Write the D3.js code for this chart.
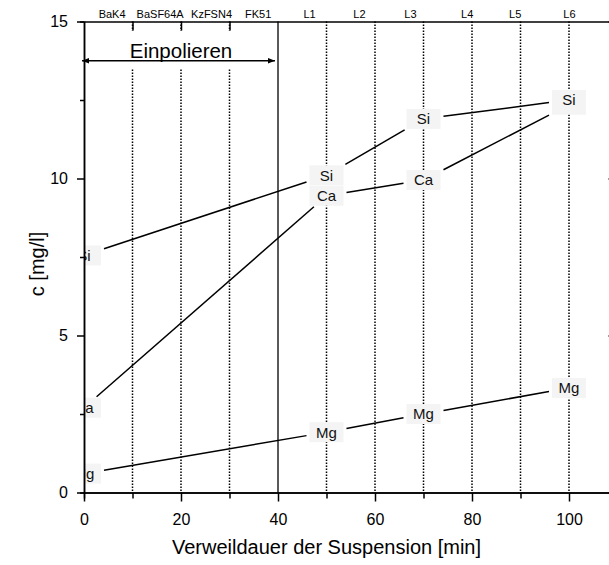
<!DOCTYPE html>
<html>
<head>
<meta charset="utf-8">
<script src="https://cdn.jsdelivr.net/npm/d3@7"></script>
<style>
	body { margin: 0; background: #fff; }
	svg { display: block; font-family: Arial, "Liberation Sans", sans-serif; }
</style>
</head>
<body>
<div id="chart"></div>
<script>
// Measured concentrations (mg/l) over residence time (min)
var times = [0, 50, 70, 100];
var si = [7.55, 10.1, 11.9, 12.5];
var ca = [2.7, 9.45, 9.95, 12.35];
var mg = [0.6, 1.92, 2.5, 3.33];

// Glass labels along the top, with their position on the time axis
var glassLabels = ['BaK4', 'BaSF64A', 'KzFSN4', 'FK51', 'L1', 'L2', 'L3', 'L4', 'L5', 'L6'];
var glassPos = [5.8, 15.7, 26.3, 35.9, 46.5, 56.8, 67.3, 79, 88.9, 100.1];
var gridMarks = [10, 20, 30, 50, 60, 70, 80, 90, 100];
var phaseEnd = 40;
var phaseLabel = 'Einpolieren';

var xMajor = [0, 20, 40, 60, 80, 100];
var xMinor = [10, 30, 50, 70, 90];
var yMajor = [0, 5, 10, 15];
var yMinor = [2.5, 7.5, 12.5];

var series = [
	{ name: 'Mg', values: mg },
	{ name: 'Ca', values: ca },
	{ name: 'Si', values: si }
];

var width = 609, height = 565;
var svg = d3.select('#chart').append('svg')
	.attr('width', width)
	.attr('height', height);

// Scales
var x = d3.scaleLinear().domain([0, 110]).range([84, 617.5]);
var y = d3.scaleLinear().domain([0, 15]).range([492.5, 21.5]);

svg.append('clipPath').attr('id', 'plot')
	.append('rect')
	.attr('x', x(0)).attr('y', y(15))
	.attr('width', x(110) - x(0)).attr('height', y(0) - y(15));

// Dotted separators
svg.append('g').selectAll('line')
	.data(gridMarks)
	.enter().append('line')
	.attr('x1', function(d) { return x(d); })
	.attr('x2', function(d) { return x(d); })
	.attr('y1', y(15)).attr('y2', y(0))
	.attr('stroke', '#000')
	.attr('stroke-width', 1.5)
	.attr('stroke-dasharray', '1.5,1.5');

svg.append('line')
	.attr('x1', x(phaseEnd)).attr('x2', x(phaseEnd))
	.attr('y1', y(15)).attr('y2', y(0))
	.attr('stroke', '#000').attr('stroke-width', 1.3);

// Polishing phase: blank area, arrow and label
svg.append('rect')
	.attr('x', x(0) + 1).attr('y', 31)
	.attr('width', x(phaseEnd) - x(0) - 2).attr('height', 37)
	.attr('fill', '#fff');

var defs = svg.append('defs');
defs.append('marker')
	.attr('id', 'head')
	.attr('viewBox', '0 0 10 10')
	.attr('refX', 10).attr('refY', 5)
	.attr('markerUnits', 'userSpaceOnUse')
	.attr('markerWidth', 10).attr('markerHeight', 7)
	.attr('orient', 'auto-start-reverse')
	.append('path')
	.attr('d', 'M0,1L10,5L0,9Z')
	.attr('fill', '#000');

svg.append('line')
	.attr('x1', x(0) - 2).attr('x2', x(phaseEnd) - 3)
	.attr('y1', 60.7).attr('y2', 60.7)
	.attr('stroke', '#000').attr('stroke-width', 1.5)
	.attr('marker-start', 'url(#head)')
	.attr('marker-end', 'url(#head)');

svg.append('text')
	.attr('x', x(phaseEnd / 2)).attr('y', 58)
	.attr('text-anchor', 'middle')
	.style('font-size', '20.5px')
	.text(phaseLabel);

// Glass labels above the frame
svg.append('g').selectAll('text')
	.data(glassLabels)
	.enter().append('text')
	.attr('x', function(d, i) { return x(glassPos[i]); })
	.attr('y', 18)
	.attr('text-anchor', 'middle')
	.style('font-size', '11px')
	.text(function(d) { return d; });

// Data lines, stopped short of the text markers
var hw = 20, hh = 11;
function cut(dx, dy) {
	var a = dx === 0 ? Infinity : hw / Math.abs(dx);
	var b = dy === 0 ? Infinity : hh / Math.abs(dy);
	return Math.min(a, b);
}

var plot = svg.append('g').attr('clip-path', 'url(#plot)');

series.forEach(function(s) {
	for (var i = 0; i < times.length - 1; i++) {
		var x1 = x(times[i]), y1 = y(s.values[i]);
		var x2 = x(times[i + 1]), y2 = y(s.values[i + 1]);
		var dx = x2 - x1, dy = y2 - y1;
		var t = cut(dx, dy);
		plot.append('line')
			.attr('x1', x1 + dx * t).attr('y1', y1 + dy * t)
			.attr('x2', x2 - dx * t).attr('y2', y2 - dy * t)
			.attr('stroke', '#000')
			.attr('stroke-width', 1.5);
	}
});

// Is this marker fully hidden by a marker drawn later?
function hidden(k, i) {
	for (var j = k + 1; j < series.length; j++) {
		if (Math.abs(y(series[j].values[i]) - y(series[k].values[i])) < 8) return true;
	}
	return false;
}

// Text markers (Si drawn last so it sits on top)
series.forEach(function(s, k) {
	var pts = plot.append('g').selectAll('g')
		.data(times)
		.enter().append('g')
		.attr('transform', function(d, i) { return 'translate(' + x(d) + ',' + y(s.values[i]) + ')'; });

	pts.append('rect')
		.attr('x', -17).attr('y', -10)
		.attr('width', 34).attr('height', 20)
		.attr('fill', '#f4f4f4');

	pts.filter(function(d, i) { return !hidden(k, i); })
		.append('text')
		.attr('text-anchor', 'middle')
		.attr('dy', '0.36em')
		.style('font-size', '15px')
		.attr('fill', '#111')
		.text(s.name);
});

// Axes
function styleAxis(g) {
	g.selectAll('path, line').attr('stroke-width', 1.5);
	g.selectAll('text').attr('fill', '#000').style('font-family', 'Arial, "Liberation Sans", sans-serif');
}

svg.append('g')
	.attr('transform', 'translate(0,' + y(0) + ')')
	.call(d3.axisBottom(x).tickValues(xMinor).tickSize(6).tickFormat(''))
	.call(styleAxis);

svg.append('g')
	.attr('transform', 'translate(0,' + y(0) + ')')
	.call(d3.axisBottom(x).tickValues(xMajor).tickSizeInner(9).tickSizeOuter(0).tickPadding(12))
	.call(styleAxis)
	.selectAll('text').style('font-size', '16px');

svg.append('g')
	.attr('transform', 'translate(0,' + y(15) + ')')
	.call(d3.axisTop(x).tickValues([10, 20, 30]).tickSizeInner(-9).tickSizeOuter(0).tickFormat(''))
	.call(styleAxis);

svg.append('g')
	.attr('transform', 'translate(' + x(0) + ',0)')
	.call(d3.axisLeft(y).tickValues(yMinor).tickSize(4).tickFormat(''))
	.call(styleAxis);

svg.append('g')
	.attr('transform', 'translate(' + x(0) + ',0)')
	.call(d3.axisLeft(y).tickValues(yMajor).tickSizeInner(7).tickSizeOuter(0).tickPadding(9))
	.call(styleAxis)
	.selectAll('text').style('font-size', '16px');

svg.append('g')
	.attr('transform', 'translate(' + x(110) + ',0)')
	.call(d3.axisRight(y).tickValues(yMajor).tickSizeInner(-9).tickSizeOuter(0).tickFormat(''))
	.call(styleAxis);

// Axis titles
svg.append('text')
	.attr('x', x(50)).attr('y', 554)
	.attr('text-anchor', 'middle')
	.style('font-size', '20px')
	.text('Verweildauer der Suspension [min]');

svg.append('text')
	.attr('transform', 'translate(44,264) rotate(-90)')
	.attr('text-anchor', 'middle')
	.style('font-size', '20px')
	.text('c [mg/l]');
</script>
</body>
</html>
